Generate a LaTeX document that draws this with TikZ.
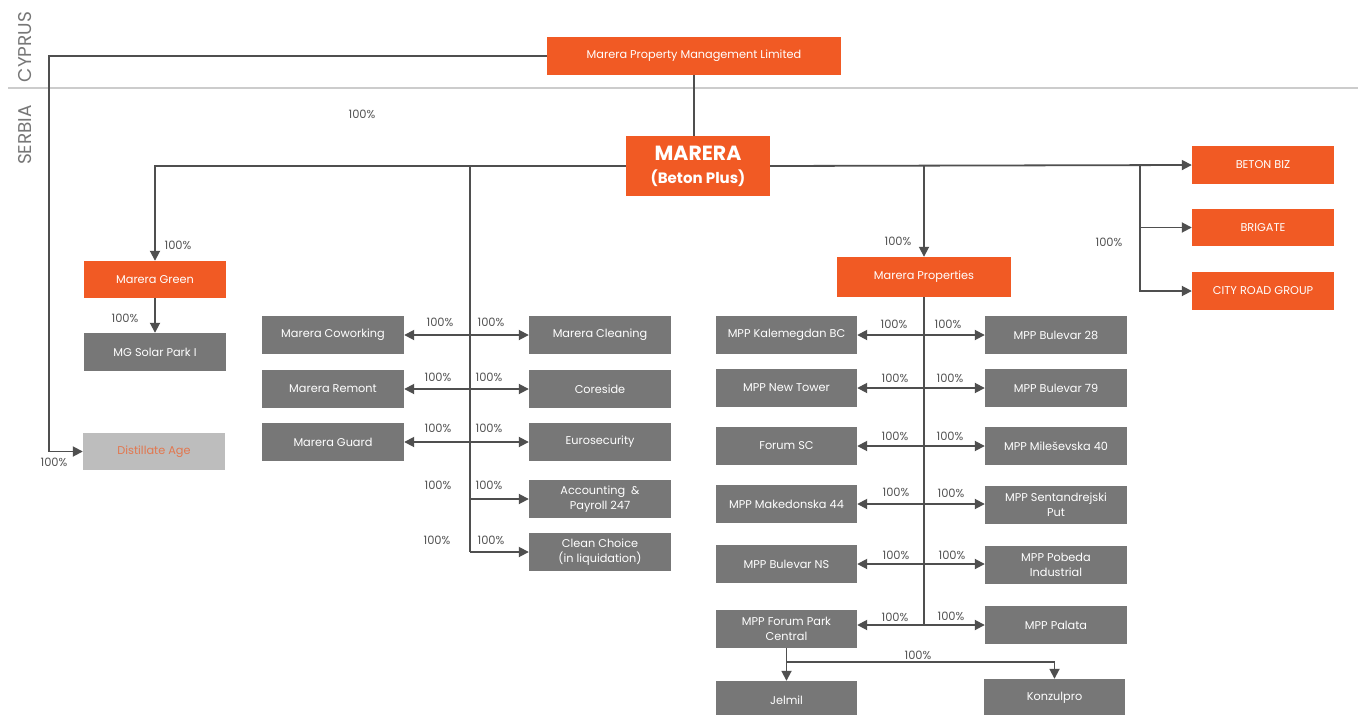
\documentclass[tikz,border=0pt]{standalone}
\usepackage{fontspec}
\setmainfont{Poppins}
\usetikzlibrary{arrows.meta}
\definecolor{morange}{HTML}{F15A24}
\definecolor{mgray}{HTML}{777777}
\definecolor{mlight}{HTML}{BDBDBD}
\definecolor{mline}{HTML}{4F4F4F}
\definecolor{mtext}{HTML}{555555}
\definecolor{mdist}{HTML}{E2774F}
\tikzset{
  x=1pt,y=-1pt,
  box/.style={rectangle,inner sep=1pt,minimum width=142pt,minimum height=38pt,align=center,text=white,font=\fontsize{11.3}{15}\selectfont},
  obox/.style={box,fill=morange},
  gbox/.style={box,fill=mgray},
  lbox/.style={box,fill=mlight,text=mdist},
  conn/.style={draw=mline,line width=1.8pt},
  arr/.style={conn,-{Triangle[length=10pt,width=10pt]}},
  darr/.style={conn,{Triangle[length=10pt,width=10pt]}-{Triangle[length=10pt,width=10pt]}},
  pct/.style={text=mtext,font=\fontsize{11.5}{12}\selectfont,inner sep=0pt},
  country/.style={text=mgray,font=\fontsize{18.5}{20}\selectfont,rotate=90,inner sep=0pt}
}
\begin{document}
\begin{tikzpicture}
\clip (0,0) rectangle (1358,715);
\fill[white] (0,0) rectangle (1358,715);
% separator
\draw[draw=black!20,line width=1.3pt] (8,88) -- (1358,88);
\node[country] (cy) at (25,47) {CYPRUS};
\node[country] (rs) at (25,135) {SERBIA};
% top
\node[obox,minimum width=294pt] (mpml) at (694,56) {Marera Property Management Limited};
\node[obox,minimum width=144pt,minimum height=60pt,font=\bfseries\fontsize{20.5}{21}\selectfont] (marera) at (698,166) {MARERA\\[2pt]{\fontsize{15}{21}\selectfont (Beton Plus)}};
% left column
\node[obox,minimum height=37pt] (green) at (155,279.5) {Marera Green};
\node[gbox] (solar) at (155,352) {MG Solar Park I};
\node[lbox,minimum height=37pt] (dist) at (154,451.5) {Distillate Age};
% services
\node[gbox] (cowork) at (333,335) {Marera Coworking};
\node[gbox] (remont) at (333,389) {Marera Remont};
\node[gbox] (guard) at (333,442) {Marera Guard};
\node[gbox] (clean) at (600,335) {Marera Cleaning};
\node[gbox] (core) at (600,389) {Coreside};
\node[gbox] (euro) at (600,442) {Eurosecurity};
\node[gbox] (acct) at (600,499) {Accounting \ \&\\Payroll 247};
\node[gbox] (choice) at (600,552) {Clean Choice\\(in liquidation)};
% right orange
\node[obox] (beton) at (1263,165) {BETON BIZ};
\node[obox,minimum height=37pt] (brig) at (1263,227.5) {BRIGATE};
\node[obox] (city) at (1263,291) {CITY ROAD GROUP};
% properties
\node[obox,minimum width=174pt,minimum height=40pt] (props) at (924,277) {Marera Properties};
\node[gbox,minimum width=141pt] (kal) at (786.5,335) {MPP Kalemegdan BC};
\node[gbox,minimum width=141pt] (ntow) at (786.5,388) {MPP New Tower};
\node[gbox,minimum width=141pt] (fsc) at (786.5,446) {Forum SC};
\node[gbox,minimum width=141pt] (mak) at (786.5,504) {MPP Makedonska 44};
\node[gbox,minimum width=141pt] (bns) at (786.5,564) {MPP Bulevar NS};
\node[gbox,minimum width=141pt] (fpc) at (786.5,629) {MPP Forum Park\\Central};
\node[gbox] (b28) at (1056,335) {MPP Bulevar 28};
\node[gbox] (b79) at (1056,388) {MPP Bulevar 79};
\node[gbox] (mil) at (1056,446) {MPP Mileševska 40};
\node[gbox] (sent) at (1056,504.5) {MPP Sentandrejski\\Put};
\node[gbox] (pob) at (1056,565) {MPP Pobeda\\Industrial};
\node[gbox] (pal) at (1056,625) {MPP Palata};
\node[gbox,minimum width=141pt] (jel) at (786.5,700) {Jelmil};
\node[gbox,minimum width=141pt] (kon) at (1054.5,698) {Konzulpro};
% coordinates
\coordinate (cl) at (49,56);
\coordinate (b1) at (470,0);
\coordinate (b3) at (1140,0);
\coordinate (fj) at (786.5,662);
% connectors
\draw[arr] (mpml.west) -- (cl) |- (dist.west);
\draw[conn] (mpml.south) -- (mpml.south |- marera.north);
\draw[arr] (marera.west) -| (green.north);
\draw[arr] (green.south) -- (solar.north);
\draw[conn] (marera.west -| b1) -- (choice.west -| b1);
\draw[darr] (cowork.east) -- (clean.west);
\draw[darr] (remont.east) -- (core.west);
\draw[darr] (guard.east) -- (euro.west);
\draw[arr] (acct.west -| b1) -- (acct.west);
\draw[arr] (choice.west -| b1) -- (choice.west);
\draw[arr] (marera.east) -- (beton.west);
\draw[arr] (marera.east -| b3) |- (city.west);
\draw[arr] (brig.west -| b3) -- (brig.west);
\draw[arr] (marera.east -| props.north) -- (props.north);
\draw[conn] (props.south) -- (props.south |- pal.west);
\draw[darr] (kal.east) -- (b28.west);
\draw[darr] (ntow.east) -- (b79.west);
\draw[darr] (fsc.east) -- (mil.west);
\draw[darr] (mak.east) -- (mak.east -| sent.west);
\draw[darr] (bns.east) -- (bns.east -| pob.west);
\draw[darr] (fpc.east |- pal.west) -- (pal.west);
\draw[arr] (fpc.south) -- (jel.north);
\draw[arr] (fj) -| (kon.north);
% percentages
\node[pct] (p1) at (362,114) {100\%};
\node[pct] (p2) at (178,245) {100\%};
\node[pct] (p3) at (125,318) {100\%};
\node[pct] (p4) at (54,462) {100\%};
\node[pct] (p5) at (440,322) {100\%};
\node[pct] (p6) at (438,377) {100\%};
\node[pct] (p7) at (438,428) {100\%};
\node[pct] (p8) at (438,485) {100\%};
\node[pct] (p9) at (437,540) {100\%};
\node[pct] (p10) at (491,322) {100\%};
\node[pct] (p11) at (489,377) {100\%};
\node[pct] (p12) at (489,428) {100\%};
\node[pct] (p13) at (489,485) {100\%};
\node[pct] (p14) at (491,540) {100\%};
\node[pct] (p15) at (898,241) {100\%};
\node[pct] (p16) at (1109,242) {100\%};
\node[pct] (q1) at (894,324) {100\%};
\node[pct] (q2) at (895,378) {100\%};
\node[pct] (q3) at (895,436) {100\%};
\node[pct] (q4) at (896,492) {100\%};
\node[pct] (q5) at (896,555) {100\%};
\node[pct] (q6) at (895,617) {100\%};
\node[pct] (r1) at (948,324) {100\%};
\node[pct] (r2) at (950,378) {100\%};
\node[pct] (r3) at (950,436) {100\%};
\node[pct] (r4) at (951,493) {100\%};
\node[pct] (r5) at (952,555) {100\%};
\node[pct] (r6) at (951,616) {100\%};
\node[pct] (q7) at (918,655) {100\%};
\end{tikzpicture}
\end{document}
